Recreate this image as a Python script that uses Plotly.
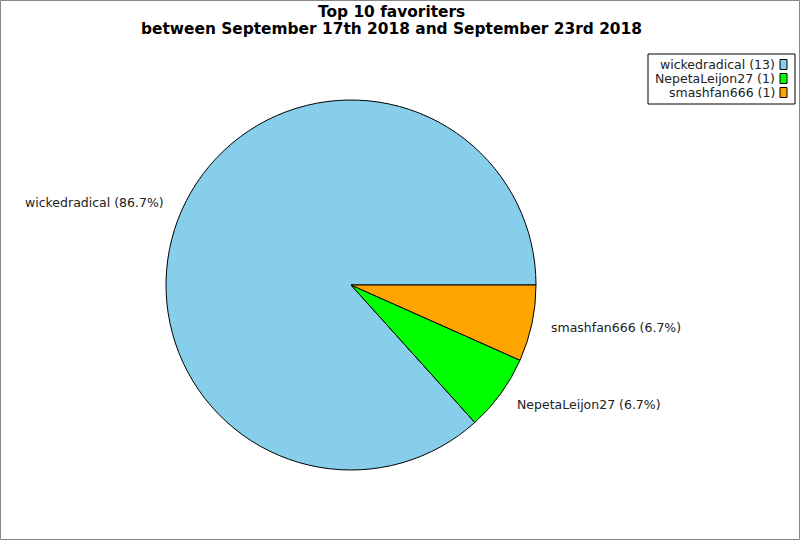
import math
import plotly.graph_objects as go

W, H = 800, 540
labels = ["wickedradical", "NepetaLeijon27", "smashfan666"]
values = [13, 1, 1]
colors = ["#87CEEB", "#00FF00", "#FFA500"]
title_lines = ["Top 10 favoriters", "between September 17th 2018 and September 23rd 2018"]

cx, cy, r = 351, 285, 185
total = sum(values)
# counterclockwise from 3 o'clock; plotly places the first ccw slice ending at rotation+slice
rotation = 90 - 360 * values[0] / total

fig = go.Figure(go.Pie(
    labels=labels, values=values, sort=False, direction="counterclockwise",
    rotation=rotation,
    marker=dict(colors=colors, line=dict(color="black", width=1)),
    textinfo="none",
    showlegend=False, hoverinfo="skip",
    domain=dict(x=[(cx - r) / W, (cx + r) / W], y=[(H - cy - r) / H, (H - cy + r) / H]),
))

LABEL_FONT = dict(family="DejaVu Sans", size=12.5, color="#222")
shapes = [dict(type="rect", xref="paper", yref="paper", x0=0.5 / W, x1=1 - 0.5 / W,
               y0=0.5 / H, y1=1 - 0.5 / H, line=dict(color="#888", width=1))]
annotations = []
for i, t in enumerate(title_lines):
    annotations.append(dict(xref="paper", yref="paper", x=391 / W, y=1 - (12.5 + 16 * i) / H,
                            xanchor="center", yanchor="middle", showarrow=False, text=t,
                            font=dict(family="DejaVu Sans", size=15.4, color="black",
                                      weight="bold")))

# slice labels outside the pie, at each slice's mid-angle (ccw from 3 o'clock)
start = 0.0
lr = r * 1.095
for lab, val in zip(labels, values):
    frac = val / total
    mid = math.radians(360 * (start + frac / 2))
    start += frac
    px = cx + lr * math.cos(mid)
    py = cy - lr * math.sin(mid)
    annotations.append(dict(xref="paper", yref="paper", x=px / W, y=1 - py / H,
                            xanchor="left" if math.cos(mid) >= 0 else "right",
                            yanchor="middle", showarrow=False,
                            text=f"{lab} ({100 * frac:.1f}%)", font=LABEL_FONT))

# legend box
lx0, lx1, ly0, ly1 = 648, 795, 54, 104
shapes.append(dict(type="rect", xref="paper", yref="paper", x0=lx0 / W, x1=lx1 / W,
                   y0=1 - ly1 / H, y1=1 - ly0 / H, line=dict(color="black", width=1),
                   fillcolor="white"))
for i, (lab, val, col) in enumerate(zip(labels, values, colors)):
    yc = 64.5 + 14 * i
    annotations.append(dict(xref="paper", yref="paper", x=777 / W, y=1 - yc / H,
                            xanchor="right", yanchor="middle", showarrow=False,
                            text=f"{lab} ({val})", font=LABEL_FONT))
    shapes.append(dict(type="rect", xref="paper", yref="paper", x0=780 / W, x1=787 / W,
                       y0=1 - (yc + 5) / H, y1=1 - (yc - 5) / H,
                       line=dict(color="black", width=1), fillcolor=col))

fig.update_layout(
    width=W, height=H, margin=dict(l=0, r=0, t=0, b=0),
    paper_bgcolor="white", plot_bgcolor="white",
    shapes=shapes, annotations=annotations,
)
fig.write_html("out.html", config={"displayModeBar": False},
               post_script="document.body.style.margin='0';document.body.style.overflow='hidden';")
